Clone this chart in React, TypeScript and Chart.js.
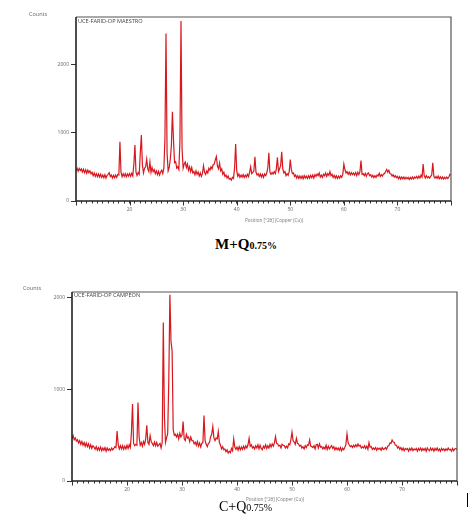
import React, { useEffect, useRef } from "react";
import { Chart, registerables } from "chart.js";

Chart.register(...registerables);

// Scan grid (instrument step), degrees 2-theta
const SCAN_START = 10;
const SCAN_END = 80;
const SCAN_STEP = 0.2;

// M+Q0.75% (UCE-FARID-OP MAESTRO) counts, one row per degree (x.0, x.2, x.4, x.6, x.8)
const M_COUNTS = [
  440, 480, 435, 475, 445,
  470, 425, 465, 415, 455,
  405, 450, 415, 440, 395,
  420, 370, 410, 360, 400,
  355, 395, 350, 390, 345,
  380, 340, 385, 335, 375,
  390, 415, 360, 380, 335,
  375, 340, 380, 345, 390,
  380, 866, 420, 355, 400,
  360, 400, 355, 395, 365,
  400, 360, 405, 365, 540,
  818, 420, 370, 415, 390,
  700, 963, 520, 410, 480,
  500, 613, 470, 430, 570,
  420, 490, 430, 460, 400,
  440, 385, 435, 380, 425,
  450, 400, 480, 900, 2448,
  700, 440, 490, 610, 800,
  1304, 890, 560, 575, 480,
  500, 460, 880, 2632, 760,
  480, 540, 570, 490, 540,
  450, 500, 430, 490, 410,
  430, 385, 440, 390, 425,
  365, 410, 360, 400, 515,
  420, 390, 440, 410, 480,
  450, 500, 470, 530, 540,
  600, 650, 510, 470, 555,
  440, 470, 390, 420, 360,
  380, 335, 365, 320, 330,
  305, 345, 330, 480, 832,
  440, 360, 395, 345, 380,
  350, 385, 345, 380, 350,
  390, 355, 420, 500, 400,
  420, 440, 647, 420, 380,
  400, 360, 395, 350, 390,
  345, 395, 370, 410, 480,
  705, 420, 390, 415, 395,
  430, 400, 470, 637, 430,
  470, 520, 718, 470, 410,
  430, 370, 400, 375, 430,
  607, 460, 400, 410, 360,
  380, 335, 370, 330, 365,
  330, 365, 325, 370, 335,
  365, 330, 370, 335, 375,
  340, 380, 335, 385, 360,
  395, 370, 410, 350, 380,
  345, 390, 370, 410, 360,
  400, 375, 430, 370, 390,
  345, 375, 335, 370, 330,
  365, 335, 370, 345, 390,
  540, 460, 410, 430, 390,
  420, 380, 415, 385, 410,
  380, 415, 370, 420, 385,
  430, 590, 390, 400, 370,
  405, 360, 400, 410, 370,
  385, 350, 375, 340, 370,
  345, 380, 365, 405, 360,
  385, 365, 395, 400, 430,
  460, 420, 450, 400, 395,
  365, 385, 350, 370, 340,
  360, 325, 355, 320, 350,
  325, 350, 320, 345, 325,
  345, 315, 345, 320, 350,
  325, 350, 335, 360, 330,
  365, 335, 380, 350, 540,
  370, 335, 370, 340, 355,
  335, 360, 380, 560, 360,
  335, 360, 330, 365, 325,
  355, 325, 350, 320, 345,
  325, 350, 330, 350, 390,
  380,
];

// C+Q0.75% (UCE-FARID-OP CAMPEON) counts, same grid
const C_COUNTS = [
  460, 495, 450, 470, 435,
  450, 415, 440, 400, 430,
  390, 420, 380, 415, 375,
  405, 360, 395, 355, 385,
  370, 345, 375, 335, 365,
  335, 370, 330, 360, 335,
  365, 325, 360, 335, 350,
  330, 360, 340, 355, 375,
  365, 546, 395, 350, 385,
  350, 385, 345, 380, 350,
  390, 355, 395, 365, 520,
  841, 410, 385, 400, 390,
  856, 480, 390, 420, 380,
  430, 400, 460, 608, 420,
  400, 495, 430, 410, 385,
  425, 385, 420, 380, 395,
  410, 360, 420, 1730, 700,
  420, 470, 520, 1100, 2033,
  1522, 1420, 560, 500, 510,
  480, 510, 460, 520, 480,
  500, 648, 460, 440, 510,
  470, 480, 430, 480, 440,
  440, 405, 425, 390, 430,
  380, 415, 370, 410, 420,
  714, 440, 400, 375, 410,
  420, 480, 510, 594, 470,
  440, 470, 460, 540, 420,
  390, 350, 375, 340, 350,
  320, 340, 305, 325, 310,
  355, 330, 459, 370, 345,
  370, 335, 375, 340, 370,
  345, 380, 350, 385, 360,
  395, 466, 380, 395, 360,
  375, 350, 385, 360, 395,
  350, 390, 355, 340, 380,
  360, 395, 355, 385, 360,
  400, 370, 405, 380, 415,
  484, 410, 405, 380, 390,
  360, 400, 390, 385, 360,
  380, 360, 405, 395, 450,
  532, 440, 425, 400, 466,
  410, 405, 380, 390, 360,
  375, 350, 385, 365, 395,
  390, 448, 380, 375, 365,
  385, 350, 395, 400, 360,
  405, 370, 375, 350, 370,
  350, 390, 345, 380, 350,
  370, 385, 355, 375, 340,
  365, 340, 360, 335, 365,
  330, 360, 340, 365, 400,
  514, 420, 395, 375, 385,
  365, 390, 370, 395, 375,
  405, 380, 390, 360, 375,
  360, 385, 355, 380, 345,
  420, 370, 375, 345, 360,
  345, 365, 335, 360, 345,
  360, 335, 365, 345, 350,
  365, 345, 380, 385, 415,
  410, 448, 425, 420, 390,
  390, 360, 375, 345, 365,
  335, 360, 330, 355, 345,
  355, 325, 355, 335, 360,
  330, 350, 340, 355, 325,
  355, 335, 360, 330, 355,
  335, 355, 325, 360, 340,
  330, 360, 335, 355, 325,
  355, 335, 360, 330, 350,
  325, 355, 335, 350, 330,
  350, 335, 360, 340, 345,
  325, 355, 330, 350, 355,
  340,
];

const X_TICK_LABELS = [20, 30, 40, 50, 60, 70];
const X_MAJOR_TICKS = [10, 20, 30, 40, 50, 60, 70, 80];
const X_MINOR_STEP = 1;
const Y_TICKS = [0, 1000, 2000];
const M_YMAX = 2690;
const C_YMAX = 2062;

const Y_LABEL = "Counts";
const X_TITLE = "Position [\u00B02\u03B8] (Copper (Cu))";
const M_SAMPLE = "UCE-FARID-OP MAESTRO";
const C_SAMPLE = "UCE-FARID-OP CAMPEON";

const FONT = "'Open Sans', 'DejaVu Sans', sans-serif";
const LINE_COLOR = "#d8171e";

type Area = { left: number; top: number; right: number; bottom: number };
type Spec = {
  counts: number[];
  ymax: number;
  sample: string;
  width: number;
  height: number;
  area: Area;
  countsPos: [number, number];
  samplePos: [number, number];
  titlePos: [number, number];
};

const M_SPEC: Spec = {
  counts: M_COUNTS,
  ymax: M_YMAX,
  sample: M_SAMPLE,
  width: 469,
  height: 232,
  area: { left: 76, top: 17, right: 451, bottom: 201 },
  countsPos: [29, 14],
  samplePos: [78, 21],
  titlePos: [274, 221],
};

const C_SPEC: Spec = {
  counts: C_COUNTS,
  ymax: C_YMAX,
  sample: C_SAMPLE,
  width: 469,
  height: 240,
  area: { left: 72, top: 22, right: 457, bottom: 211 },
  countsPos: [23, 18],
  samplePos: [74, 25],
  titlePos: [275, 230],
};

function XrdChart({ spec, top }: { spec: Spec; top: number }) {
  const ref = useRef<HTMLCanvasElement>(null);

  useEffect(() => {
    if (!ref.current) return;
    const { area, width, height } = spec;
    const points = spec.counts.map((y, i) => ({
      x: Math.round((SCAN_START + i * SCAN_STEP) * 10) / 10,
      y,
    }));

    const frame = {
      id: "xrdFrame",
      afterDraw(chart: any) {
        const ctx = chart.ctx as CanvasRenderingContext2D;
        const ca = chart.chartArea;
        const xs = chart.scales.x;
        ctx.save();
        // top & right border
        ctx.strokeStyle = "#555";
        ctx.lineWidth = 1.2;
        ctx.beginPath();
        ctx.moveTo(ca.left, ca.top);
        ctx.lineTo(ca.right, ca.top);
        ctx.lineTo(ca.right, ca.bottom);
        ctx.stroke();
        // left & bottom axis
        ctx.strokeStyle = "#222";
        ctx.lineWidth = 1.6;
        ctx.beginPath();
        ctx.moveTo(ca.left, ca.top);
        ctx.lineTo(ca.left, ca.bottom);
        ctx.lineTo(ca.right, ca.bottom);
        ctx.stroke();
        // major x ticks (longer)
        ctx.strokeStyle = "#333";
        ctx.lineWidth = 1;
        ctx.beginPath();
        for (const v of X_MAJOR_TICKS) {
          const px = Math.round(xs.getPixelForValue(v)) + 0.5;
          ctx.moveTo(px, ca.bottom);
          ctx.lineTo(px, ca.bottom + 4.5);
        }
        ctx.stroke();
        // texts
        ctx.textBaseline = "middle";
        ctx.fillStyle = "#666";
        ctx.font = `5.5px ${FONT}`;
        ctx.textAlign = "left";
        ctx.fillText(Y_LABEL, spec.countsPos[0], spec.countsPos[1]);
        ctx.fillStyle = "#444";
        ctx.font = `5.6px ${FONT}`;
        ctx.fillText(spec.sample, spec.samplePos[0], spec.samplePos[1]);
        ctx.fillStyle = "#777";
        ctx.font = `4.6px ${FONT}`;
        ctx.textAlign = "center";
        ctx.fillText(X_TITLE, spec.titlePos[0], spec.titlePos[1]);
        ctx.restore();
      },
    };

    const chart = new Chart(ref.current, {
      type: "line",
      data: {
        datasets: [
          {
            data: points,
            borderColor: LINE_COLOR,
            borderWidth: 1.2,
            pointRadius: 0,
            tension: 0,
            fill: false,
          },
        ],
      },
      options: {
        animation: false,
        responsive: false,
        maintainAspectRatio: false,
        events: [],
        layout: {
          padding: { left: 0, top: area.top, right: width - area.right, bottom: 0 },
        },
        plugins: {
          legend: { display: false },
          tooltip: { enabled: false },
        },
        scales: {
          x: {
            type: "linear",
            min: SCAN_START,
            max: SCAN_END,
            afterBuildTicks: (s: any) => {
              const t: { value: number }[] = [];
              for (let v = SCAN_START; v <= SCAN_END; v += X_MINOR_STEP) t.push({ value: v });
              s.ticks = t;
            },
            afterFit: (s: any) => {
              s.height = height - area.bottom;
              s.paddingLeft = 0;
              s.paddingRight = 0;
            },
            ticks: {
              autoSkip: false,
              maxRotation: 0,
              minRotation: 0,
              padding: 3,
              color: "#666",
              font: { size: 5, family: FONT },
              callback: (v: any) => (X_TICK_LABELS.includes(Number(v)) ? String(v) : ""),
            },
            grid: {
              drawOnChartArea: false,
              drawTicks: true,
              tickLength: 2.5,
              color: "#333",
              lineWidth: 1,
            },
            border: { display: false },
          },
          y: {
            type: "linear",
            min: 0,
            max: spec.ymax,
            afterBuildTicks: (s: any) => {
              s.ticks = Y_TICKS.map((v) => ({ value: v }));
            },
            afterFit: (s: any) => {
              s.width = area.left;
              s.paddingTop = 0;
              s.paddingBottom = 0;
            },
            ticks: {
              padding: 2,
              color: "#666",
              font: { size: 5, family: FONT },
              callback: (v: any) => String(v),
            },
            grid: {
              drawOnChartArea: false,
              drawTicks: true,
              tickLength: 5,
              color: "#333",
              lineWidth: 1,
            },
            border: { display: false },
          },
        },
      } as any,
      plugins: [frame],
    });
    return () => chart.destroy();
  }, [spec]);

  return (
    <canvas
      ref={ref}
      width={spec.width}
      height={spec.height}
      style={{ position: "absolute", left: 0, top, width: spec.width, height: spec.height }}
    />
  );
}

export default function App() {
  return (
    <div
      style={{
        position: "absolute",
        left: 0,
        top: 0,
        width: 469,
        height: 527,
        background: "#fff",
        overflow: "hidden",
      }}
    >
      <XrdChart spec={M_SPEC} top={0} />
      <XrdChart spec={C_SPEC} top={270} />
      <div
        style={{
          position: "absolute",
          left: 215,
          top: 237,
          fontFamily: "'Liberation Serif', 'Times New Roman', serif",
          fontWeight: "bold",
          fontSize: 15,
          lineHeight: "15px",
          whiteSpace: "nowrap",
          color: "#000",
        }}
      >
        M+Q<span style={{ fontSize: 10 }}>0.75%</span>
      </div>
      <div
        style={{
          position: "absolute",
          left: 219,
          top: 500,
          fontFamily: "'Liberation Serif', 'Times New Roman', serif",
          fontSize: 14,
          lineHeight: "14px",
          whiteSpace: "nowrap",
          color: "#000",
        }}
      >
        C+Q<span style={{ fontSize: 10 }}>0.75%</span>
      </div>
      <div
        style={{
          position: "absolute",
          left: 467,
          top: 493,
          width: 1,
          height: 14,
          background: "#000",
        }}
      />
    </div>
  );
}
